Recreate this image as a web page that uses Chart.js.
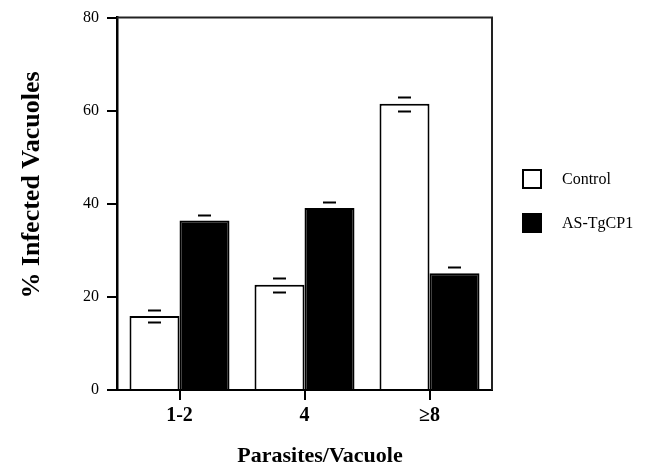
<!DOCTYPE html>
<html>
<head>
<meta charset="utf-8">
<script src="https://cdn.jsdelivr.net/npm/chart.js@4"></script>
<style>
  html, body { margin: 0; padding: 0; background: #fff; }
  #wrap { width: 647px; height: 470px; }
</style>
</head>
<body>
<div id="wrap"><canvas id="barChart" width="647" height="470"></canvas></div>
<script>
// data
const categories = ['1-2', '4', '≥8'];
const controlValues = [15.9, 22.6, 61.5];
const controlErr = [1.3, 1.5, 1.5];
const asValues = [36.4, 39.1, 25.1];
const asErr = [1.3, 1.3, 1.4];
const yTicks = [0, 20, 40, 60, 80];

const serif = "'Liberation Serif', 'Times New Roman', serif";

// caps only, like the original
const errorBars = {
  id: 'errorBars',
  afterDatasetsDraw(chart) {
    const ctx = chart.ctx;
    const y = chart.scales.y;
    ctx.save();
    ctx.strokeStyle = '#000';
    ctx.lineWidth = 2;
    chart.data.datasets.forEach((ds, i) => {
      const meta = chart.getDatasetMeta(i);
      meta.data.forEach((bar, j) => {
        const v = ds.data[j], e = ds.err[j];
        [v + e, v - e].forEach(val => {
          const py = Math.round(y.getPixelForValue(val)) + 0.5;
          ctx.beginPath();
          ctx.moveTo(bar.x - 6.5, py);
          ctx.lineTo(bar.x + 6.5, py);
          ctx.stroke();
        });
      });
    });
    ctx.restore();
  }
};

// box round the plot, titles and the legend at the right
const decor = {
  id: 'decor',
  afterDraw(chart) {
    const ctx = chart.ctx;
    const a = chart.chartArea;
    ctx.save();
    ctx.strokeStyle = '#222';
    ctx.lineWidth = 2;
    ctx.beginPath();
    ctx.moveTo(a.left, a.top);
    ctx.lineTo(a.right, a.top);
    ctx.lineTo(a.right, a.bottom);
    ctx.stroke();

    ctx.fillStyle = '#000';
    ctx.font = 'bold 22px ' + serif;
    ctx.textAlign = 'center';
    ctx.textBaseline = 'middle';
    ctx.fillText('Parasites/Vacuole', 320, 456);

    ctx.save();
    ctx.translate(32, 185);
    ctx.rotate(-Math.PI / 2);
    ctx.font = 'bold 26px ' + serif;
    ctx.fillText('% Infected Vacuoles', 0, 0);
    ctx.restore();

    // legend
    const rows = [179, 223];
    ctx.font = '16px ' + serif;
    ctx.textAlign = 'left';
    chart.data.datasets.forEach((ds, i) => {
      const cy = rows[i];
      ctx.fillStyle = ds.backgroundColor;
      ctx.fillRect(523, cy - 9, 18, 18);
      ctx.strokeStyle = '#000';
      ctx.lineWidth = 2;
      ctx.strokeRect(523, cy - 9, 18, 18);
      ctx.fillStyle = '#000';
      ctx.fillText(ds.label, 562, cy + 1);
    });
    ctx.restore();
  }
};

new Chart(document.getElementById('barChart'), {
  type: 'bar',
  data: {
    labels: categories,
    datasets: [
      {
        label: 'Control',
        data: controlValues,
        err: controlErr,
        backgroundColor: '#ffffff',
        borderColor: '#000000',
        borderWidth: 2,
        barPercentage: 1,
        categoryPercentage: 0.8,
      },
      {
        label: 'AS-TgCP1',
        data: asValues,
        err: asErr,
        backgroundColor: '#000000',
        borderColor: '#000000',
        borderWidth: 2,
        barPercentage: 1,
        categoryPercentage: 0.8,
      }
    ]
  },
  options: {
    responsive: false,
    animation: false,
    layout: { padding: { left: 0, right: 155, top: 15, bottom: 0 } },
    plugins: {
      legend: { display: false },
      tooltip: { enabled: false }
    },
    scales: {
      x: {
        offset: true,
        grid: { offset: false, drawOnChartArea: false, drawTicks: true, tickLength: 10, color: '#000', lineWidth: 2 },
        border: { color: '#000', width: 2 },
        ticks: { color: '#000', padding: 4, font: { family: serif, size: 20, weight: 'bold' } },
        afterFit: s => { s.height = 80; }
      },
      y: {
        min: 0,
        max: 80,
        afterBuildTicks: s => { s.ticks = yTicks.map(v => ({ value: v })); },
        grid: { drawOnChartArea: false, drawTicks: true, tickLength: 10, color: '#000', lineWidth: 2 },
        border: { color: '#000', width: 2.5 },
        ticks: { color: '#000', padding: 8, font: { family: serif, size: 16 } },
        afterFit: s => { s.width = 117; }
      }
    }
  },
  plugins: [errorBars, decor]
});
</script>
</body>
</html>
